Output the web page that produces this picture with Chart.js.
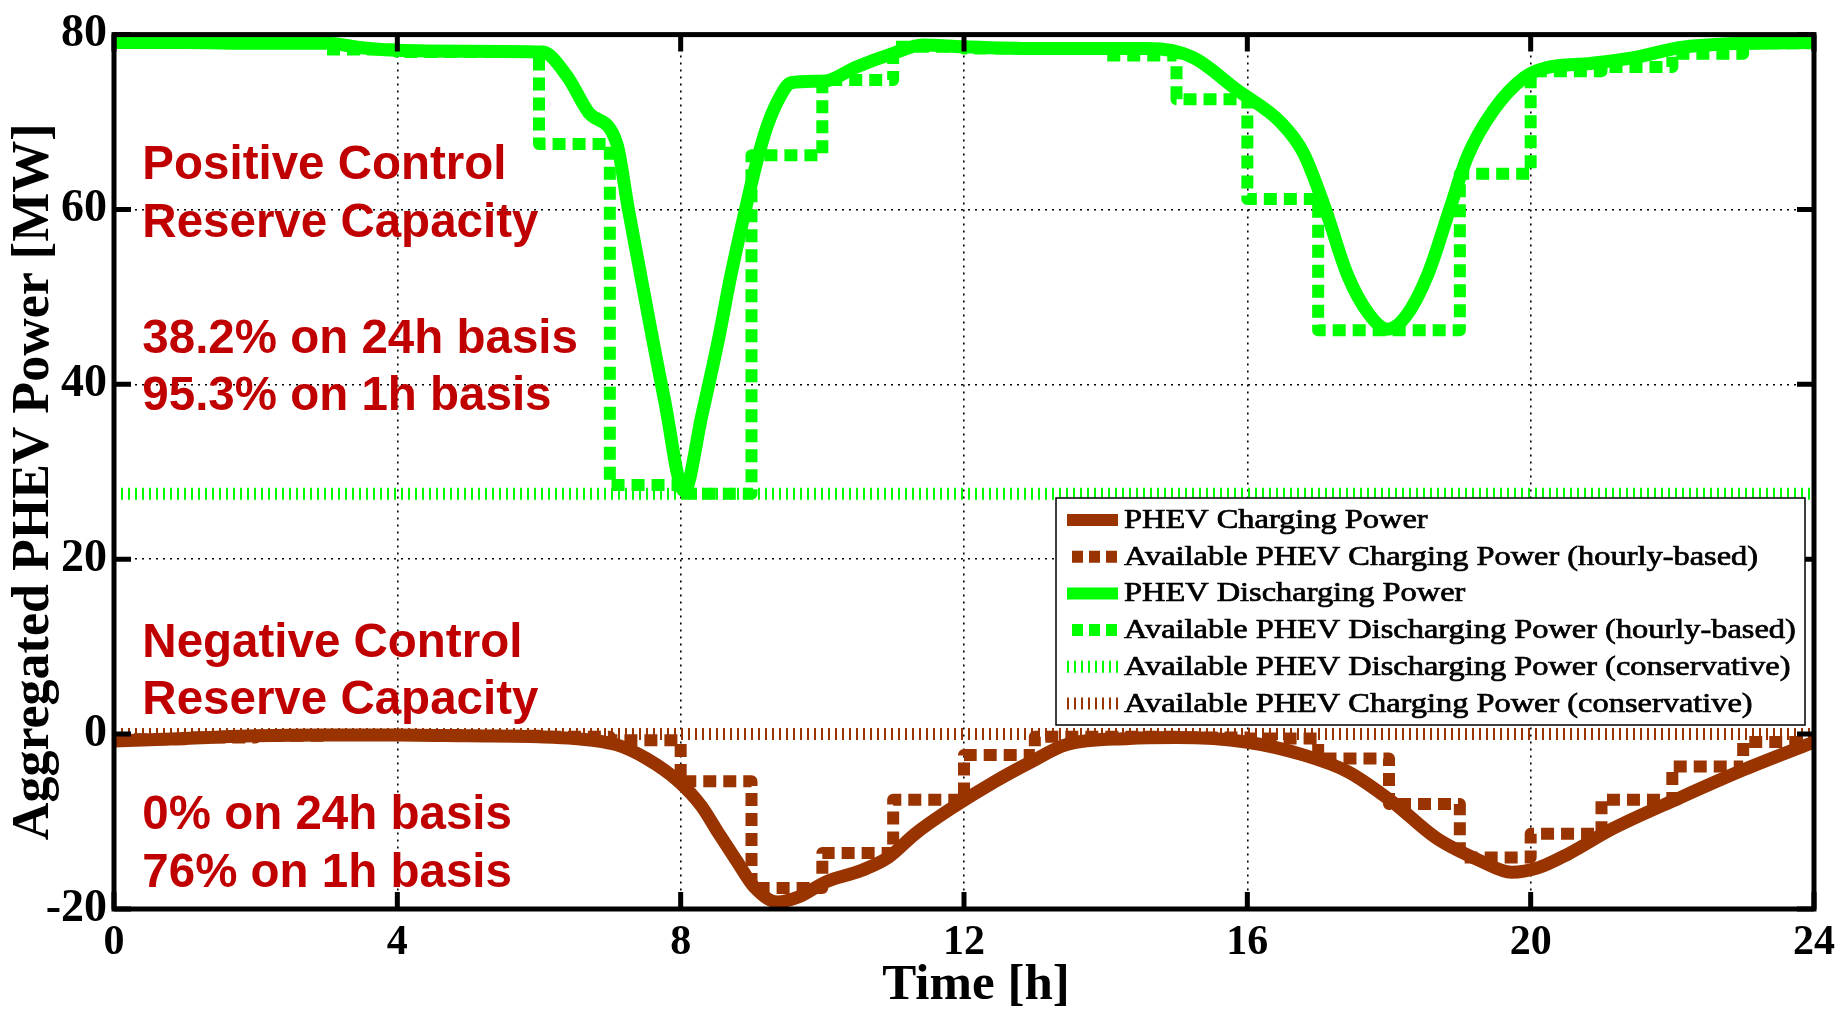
<!DOCTYPE html>
<html>
<head>
<meta charset="utf-8">
<script src="https://cdn.jsdelivr.net/npm/chart.js@4.4.1/dist/chart.umd.min.js"></script>
<style>
  html, body { margin: 0; padding: 0; background: #fff; }
  #wrap { width: 1844px; height: 1010px; }
</style>
</head>
<body>
<div id="wrap"><canvas id="phev_chart" width="1844" height="1010"></canvas></div>
<script>
// hours of the day and aggregated power [MW]
const dischargeHours = [0, 1, 2, 3, 3.5, 4, 5, 6.05, 6.4, 6.7, 7.1, 7.26, 7.52, 7.77, 8.05, 8.3, 8.53, 8.71, 8.9, 9.06, 9.22, 9.41, 9.56, 10.04, 10.48, 10.98, 11.42, 11.98, 13, 14, 14.6, 15.23, 15.85, 16.48, 16.79, 17.1, 17.41, 17.72, 17.98, 18.23, 18.55, 18.86, 19.11, 19.48, 19.91, 20.22, 20.85, 21.48, 22.1, 23.03, 24];
const dischargePower = [79.1, 79.1, 79.0, 79.0, 78.5, 78.2, 78.1, 78.0, 75.2, 71.1, 67.5, 60.1, 48.8, 38.3, 27.8, 36.5, 45.0, 52.5, 59.5, 65.0, 69.5, 73.0, 74.5, 74.7, 76.3, 77.8, 78.8, 78.6, 78.4, 78.4, 78.4, 77.4, 73.7, 69.9, 66.5, 60.1, 52.6, 48.0, 46.3, 47.7, 52.6, 60.1, 66.1, 71.4, 75.1, 76.2, 76.7, 77.4, 78.5, 79.0, 79.1];

const chargeHours = [0, 1, 2, 3, 4, 5, 6, 6.5, 7.09, 7.52, 7.97, 8.29, 8.54, 8.79, 9.04, 9.36, 9.67, 10.05, 10.55, 10.93, 11.31, 11.82, 12.44, 12.94, 13.45, 14.33, 15, 15.98, 16.8, 17.42, 18.04, 18.67, 19.29, 19.73, 20.1, 20.53, 21.16, 22.1, 23.03, 24];
const chargePower = [-0.8, -0.5, -0.2, -0.1, -0.1, -0.2, -0.3, -0.5, -1.2, -2.8, -5.4, -8.2, -11.4, -14.5, -17.5, -19.2, -18.6, -16.9, -15.6, -14.1, -11.4, -8.5, -5.4, -3.2, -1.2, -0.5, -0.4, -0.9, -2.4, -4.3, -7.7, -11.9, -14.5, -15.8, -15.3, -13.7, -10.8, -7.3, -4.0, -0.9];

// hourly-based availability (value holds from that hour to the next, last one repeats at 24h)
const hourlyHours = [0, 1, 2, 3, 4, 5, 6, 7, 8, 9, 10, 11, 12, 13, 14, 15, 16, 17, 18, 19, 20, 21, 22, 23, 24];
const dischargeHourly = [79.1, 79.1, 79.1, 78.3, 78.0, 78.0, 67.5, 28.5, 27.5, 66.2, 74.8, 78.6, 78.4, 78.4, 77.6, 72.6, 61.2, 46.2, 46.2, 64.1, 75.8, 76.3, 77.8, 79.0, 79.0];
const chargeHourly = [-0.6, -0.4, -0.2, -0.1, -0.1, -0.2, -0.3, -0.7, -5.4, -17.6, -13.6, -7.5, -2.4, -0.3, -0.3, -0.4, -0.5, -2.8, -8.0, -14.1, -11.4, -7.5, -3.7, -0.9, -0.9];

// conservative (whole day) availability
const conservativeHours = [0, 24];
const dischargeConservative = [27.5, 27.5];
const chargeConservative = [0.0, 0.0];

const xTicks = [0, 4, 8, 12, 16, 20, 24];
const yTicks = [-20, 0, 20, 40, 60, 80];

// red notes inside the plot: [hour, MW, text]
const notes = [
    [0.4, 65.0, 'Positive Control'],
    [0.4, 58.3, 'Reserve Capacity'],
    [0.4, 45.1, '38.2% on 24h basis'],
    [0.4, 38.6, '95.3% on 1h basis'],
    [0.4, 10.3, 'Negative Control'],
    [0.4, 3.8, 'Reserve Capacity'],
    [0.4, -9.3, '0% on 24h basis'],
    [0.4, -16.0, '76% on 1h basis']
];

const green = '#00ff00';
const brown = '#993300';
const serif = "'Liberation Serif', 'Times New Roman', serif";

function points(xs, ys) {
    const out = [];
    for (var i = 0; i < xs.length; i++) {
        out.push({ x: xs[i], y: ys[i] });
    }
    return out;
}

const datasets = [
    { label: 'PHEV Charging Power', data: points(chargeHours, chargePower),
      borderColor: brown, borderWidth: 13, cubicInterpolationMode: 'monotone', order: 6, kind: 'solid' },
    { label: 'Available PHEV Charging Power (hourly-based)', data: points(hourlyHours, chargeHourly),
      borderColor: brown, borderWidth: 12, borderDash: [13, 7], stepped: true, order: 5, kind: 'dash' },
    { label: 'PHEV Discharging Power', data: points(dischargeHours, dischargePower),
      borderColor: green, borderWidth: 13, cubicInterpolationMode: 'monotone', order: 4, kind: 'solid' },
    { label: 'Available PHEV Discharging Power (hourly-based)', data: points(hourlyHours, dischargeHourly),
      borderColor: green, borderWidth: 12, borderDash: [13, 7], stepped: true, order: 3, kind: 'dash' },
    { label: 'Available PHEV Discharging Power (conservative)', data: points(conservativeHours, dischargeConservative),
      borderColor: green, borderWidth: 12, borderDash: [2, 5], order: 2, kind: 'hatch' },
    { label: 'Available PHEV Charging Power (conservative)', data: points(conservativeHours, chargeConservative),
      borderColor: brown, borderWidth: 12, borderDash: [2, 5], order: 1, kind: 'hatch' }
];

// frame, inward tick marks, axis titles, red notes and the legend box
const decorations = {
    id: 'decorations',
    afterDatasetsDraw(chart) {
        const ctx = chart.ctx;
        const xs = chart.scales.x;
        const ys = chart.scales.y;
        ctx.save();
        ctx.fillStyle = '#c00000';
        ctx.font = "bold 47.5px 'Liberation Sans', Arial, sans-serif";
        ctx.textBaseline = 'middle';
        ctx.textAlign = 'left';
        notes.forEach(function (n) {
            ctx.fillText(n[2], xs.getPixelForValue(n[0]), ys.getPixelForValue(n[1]));
        });
        ctx.restore();
    },
    afterDraw(chart) {
        const ctx = chart.ctx;
        const a = chart.chartArea;
        const xs = chart.scales.x;
        const ys = chart.scales.y;
        const tick = 17;

        ctx.save();
        ctx.strokeStyle = '#000';
        ctx.lineWidth = 5;
        ctx.setLineDash([]);
        ctx.beginPath();
        xTicks.forEach(function (t) {
            const px = xs.getPixelForValue(t);
            ctx.moveTo(px, a.bottom); ctx.lineTo(px, a.bottom - tick);
            ctx.moveTo(px, a.top); ctx.lineTo(px, a.top + tick);
        });
        yTicks.forEach(function (t) {
            const py = ys.getPixelForValue(t);
            ctx.moveTo(a.left, py); ctx.lineTo(a.left + tick, py);
            ctx.moveTo(a.right, py); ctx.lineTo(a.right - tick, py);
        });
        ctx.stroke();
        ctx.strokeRect(a.left, a.top, a.right - a.left, a.bottom - a.top);

        // axis titles
        ctx.fillStyle = '#000';
        ctx.textAlign = 'center';
        ctx.textBaseline = 'middle';
        ctx.font = 'bold 51px ' + serif;
        ctx.fillText('Time [h]', (a.left + a.right) / 2 + 12, 986);
        ctx.save();
        ctx.translate(35, (a.top + a.bottom) / 2 + 10);
        ctx.rotate(-Math.PI / 2);
        ctx.font = 'bold 52px ' + serif;
        ctx.fillText('Aggregated PHEV Power [MW]', 0, 0);
        ctx.restore();

        // legend
        const left = 1056, right = a.right - 9, top = 498, bottom = 725, rowH = 36.7;
        ctx.fillStyle = '#fff';
        ctx.fillRect(left, top, right - left, bottom - top);
        ctx.lineWidth = 1.5;
        ctx.strokeStyle = '#000';
        ctx.strokeRect(left, top, right - left, bottom - top);

        chart.data.datasets.forEach(function (ds, i) {
            const cy = top + 22 + i * rowH;
            const sx0 = left + 11, sx1 = left + 62;
            ctx.strokeStyle = ds.borderColor;
            ctx.lineWidth = 12;
            if (ds.kind === 'solid') {
                ctx.setLineDash([]);
            } else if (ds.kind === 'dash') {
                ctx.setLineDash([11, 6]);
            } else {
                ctx.setLineDash([2, 5]);
            }
            ctx.beginPath();
            ctx.moveTo(ds.kind === 'dash' ? sx0 + 5 : sx0, cy);
            ctx.lineTo(sx1, cy);
            ctx.stroke();
            ctx.setLineDash([]);

            ctx.save();
            ctx.translate(left + 68, cy + 1);
            ctx.scale(1.2, 1);
            ctx.fillStyle = '#000';
            ctx.strokeStyle = '#000';
            ctx.lineWidth = 0.7;
            ctx.font = '27px ' + serif;
            ctx.textBaseline = 'middle';
            ctx.textAlign = 'left';
            ctx.fillText(ds.label, 0, 0);
            ctx.strokeText(ds.label, 0, 0);
            ctx.restore();
        });
        ctx.restore();
    }
};

const canvas = document.getElementById('phev_chart');
new Chart(canvas, {
    type: 'line',
    data: { datasets: datasets },
    options: {
        responsive: false,
        animation: false,
        layout: { padding: { top: 24, right: 28, left: 0, bottom: 0 } },
        elements: {
            point: { radius: 0 },
            line: { tension: 0, borderCapStyle: 'butt', borderJoinStyle: 'round' }
        },
        plugins: {
            legend: { display: false },
            tooltip: { enabled: false }
        },
        scales: {
            x: {
                type: 'linear',
                min: 0,
                max: 24,
                afterFit: function (scale) { scale.height = 101; },
                afterBuildTicks: function (scale) { scale.ticks = xTicks.map(function (v) { return { value: v }; }); },
                ticks: { color: '#000', padding: 9, font: { family: serif, size: 42, weight: 'bold' } },
                grid: { color: '#000', lineWidth: 1.6, drawTicks: false },
                border: { display: false, dash: [2, 5] }
            },
            y: {
                type: 'linear',
                min: -20,
                max: 80,
                afterFit: function (scale) { scale.width = 114; },
                afterBuildTicks: function (scale) { scale.ticks = yTicks.map(function (v) { return { value: v }; }); },
                ticks: { color: '#000', padding: 7, font: { family: serif, size: 46, weight: 'bold' } },
                grid: { color: '#000', lineWidth: 1.6, drawTicks: false },
                border: { display: false, dash: [2, 5] }
            }
        }
    },
    plugins: [decorations]
});
</script>
</body>
</html>
